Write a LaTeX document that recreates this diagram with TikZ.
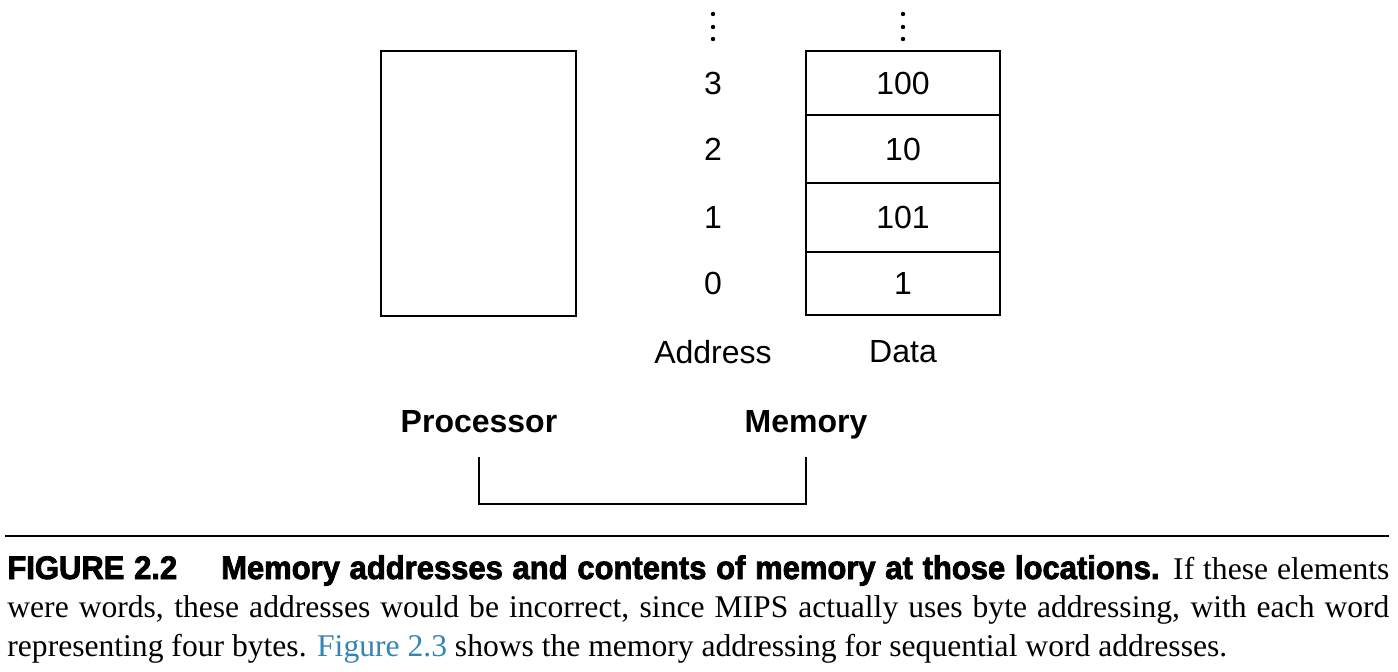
\documentclass[tikz,border=0pt]{standalone}
\usepackage{fontspec}
\setmainfont{Liberation Sans}
\newfontfamily\capserif{Liberation Serif}
\newfontfamily\capheavy[FakeStretch=0.95,FakeBold=2.5]{Liberation Sans}
\definecolor{figlink}{RGB}{52,132,180}

\begin{document}
\begin{tikzpicture}
  [x=0.5pt,y=-0.5pt,
   every node/.style={inner sep=0pt,font=\fontsize{16}{19}\selectfont},
   cell/.style={draw,line width=1pt,minimum width=97pt},
   wire/.style={line width=1pt}]
  \useasboundingbox (0,0) rectangle (1398,672);

  \node[draw,line width=1pt,minimum width=97.5pt,minimum height=132.5pt] (cpu) at (478.5,183.5) {};

  \foreach \a/\d/\y/\h in {3/100/83/32, 2/10/149/34, 1/101/217.5/34.5, 0/1/283.5/31.5} {
    \node[cell,minimum height=\h pt] (data\a) at (903,\y) {\d};
    \node (addr\a) at (713,\y) {\a};
  }
  \foreach \x in {713,903}
    \foreach \y in {14,27,39}
      \fill (\x,\y) circle (1.1pt);

  \node (addrlabel) at (713,352) {Address};
  \node (datalabel) at (903,352) {Data};

  \node[anchor=base,font=\fontsize{16}{19}\selectfont\bfseries] (proc) at (479,433) {Processor};
  \node[anchor=base,font=\fontsize{16}{19}\selectfont\bfseries] (mem) at (806,433) {Memory};

  \coordinate (busL) at (479,457);
  \coordinate (busR) at (806,457);
  \draw[wire] (busL) -- ++(0,47) -| (busR);

  \coordinate (ruleL) at (5,536);
  \coordinate (ruleR) at (1389,536);
  \draw[wire] (ruleL) -- (ruleR);

  \node[anchor=north west,text width=691pt,align=justify,
        font=\capserif\fontsize{15.8}{19.4}\selectfont] (caption) at (7,555)
    {{\capheavy\bfseries\fontsize{16.3}{19.4}\selectfont FIGURE 2.2\hspace{22pt}Memory addresses and contents of memory at those locations.}
     If these elements\linebreak were words, these addresses would be incorrect, since MIPS actually uses byte addressing, with each word\linebreak
     representing four bytes. {\color{figlink}Figure 2.3} shows the memory addressing for sequential word addresses.};
\end{tikzpicture}
\end{document}
